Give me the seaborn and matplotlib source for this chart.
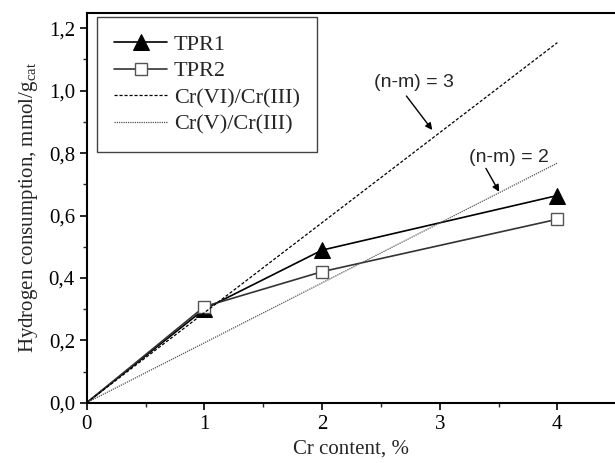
import matplotlib
matplotlib.use("Agg")
import matplotlib.pyplot as plt
import seaborn as sns
import numpy as np
import pandas as pd
from matplotlib.ticker import MultipleLocator, FuncFormatter

# ---- data ----
cr_content = [0, 1, 2, 4]
tpr1 = [0.0, 0.300, 0.489, 0.664]
tpr2 = [0.0, 0.308, 0.420, 0.588]
theory_x = [0, 4]
cr6_cr3 = [0.0, 1.154]
cr5_cr3 = [0.0, 0.768]

sns.set_style("ticks")
plt.rcParams['font.family'] = ['Liberation Serif', 'DejaVu Serif']
plt.rcParams['mathtext.fontset'] = 'custom'
plt.rcParams['mathtext.rm'] = 'Liberation Serif'
plt.rcParams['mathtext.it'] = 'Liberation Serif:italic'

fig = plt.figure(figsize=(6.15, 4.63), dpi=100)
ax = fig.add_axes([0.141, 0.1302, 0.859, 0.8424])

df1 = pd.DataFrame({"x": cr_content, "y": tpr1})
df2 = pd.DataFrame({"x": cr_content, "y": tpr2})
dft = pd.DataFrame({"x": theory_x, "y6": cr6_cr3, "y5": cr5_cr3})

sns.lineplot(data=df1, x="x", y="y", ax=ax, color="black", lw=1.2,
             marker="^", markersize=11, markerfacecolor="black",
             markeredgecolor="black", markevery=[1, 2, 3], label="TPR1")
sns.lineplot(data=df2, x="x", y="y", ax=ax, color="#333333", lw=1.2,
             marker="s", markersize=8, markerfacecolor="white",
             markeredgecolor="#555555", markeredgewidth=1.0,
             markevery=[1, 2, 3], label="TPR2")
sns.lineplot(data=dft, x="x", y="y6", ax=ax, color="black", lw=0.9,
             linestyle=(0, (2.5, 1.5)), label="Cr(VI)/Cr(III)")
sns.lineplot(data=dft, x="x", y="y5", ax=ax, color="#555555", lw=0.9,
             linestyle=(0, (1, 0.8)), label="Cr(V)/Cr(III)")

ax.set_xlim(0, 4.49)
ax.set_ylim(0, 1.25)
ax.xaxis.set_major_locator(MultipleLocator(1))
ax.xaxis.set_minor_locator(MultipleLocator(0.5))
ax.yaxis.set_major_locator(MultipleLocator(0.2))
ax.yaxis.set_minor_locator(MultipleLocator(0.1))
ax.yaxis.set_major_formatter(FuncFormatter(lambda v, p: f"{v:.1f}".replace(".", ",")))
ax.xaxis.set_major_formatter(FuncFormatter(lambda v, p: f"{v:.0f}"))

ax.tick_params(which="major", direction="out", length=5, width=1.2, labelsize=15, colors="black")
ax.tick_params(which="minor", direction="out", length=3, width=1.0)
for s in ["left", "bottom", "top"]:
    ax.spines[s].set_linewidth(1.5)
    ax.spines[s].set_color("black")
ax.spines["right"].set_visible(False)

ax.set_xlabel("Cr content, %", fontsize=15, labelpad=4)
ax.set_ylabel("Hydrogen consumption, mmol/g$_{\\mathrm{cat}}$", fontsize=15, labelpad=6)

leg = ax.legend(loc="upper left", bbox_to_anchor=(0.02, 0.988), borderaxespad=0,
                fontsize=16, frameon=True, fancybox=False, framealpha=1,
                edgecolor="#444444", handlelength=2.4, handletextpad=0.3,
                labelspacing=0.28, borderpad=0.75)
leg.get_frame().set_linewidth(1.0)

arrow = dict(arrowstyle="-|>", color="black", lw=1.0, shrinkA=0, shrinkB=0,
             mutation_scale=10)
ax.text(2.785, 1.025, "(n-m) = 3", fontsize=14, family="Liberation Sans",
        ha="center", va="center")
ax.annotate("", xy=(2.937, 0.874), xytext=(2.717, 0.983), arrowprops=arrow)
ax.text(3.59, 0.786, "(n-m) = 2", fontsize=14, family="Liberation Sans",
        ha="center", va="center")
ax.annotate("", xy=(3.505, 0.676), xytext=(3.393, 0.751), arrowprops=arrow)

fig.savefig("out.png", dpi=100)
